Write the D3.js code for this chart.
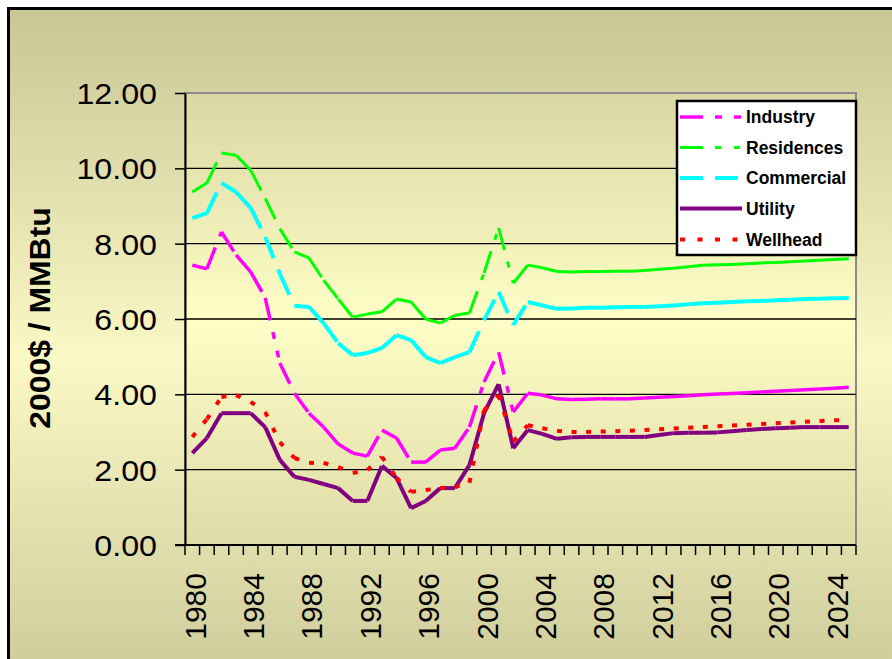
<!DOCTYPE html>
<html>
<head>
<meta charset="utf-8">
<script src="https://cdn.jsdelivr.net/npm/d3@7"></script>
<style>
  html, body { margin: 0; padding: 0; background: #ffffff; }
  svg { display: block; }
  text { font-family: "Liberation Sans", Arial, sans-serif; }
</style>
</head>
<body>
<svg id="chart" width="892" height="659"></svg>
<script>
// Natural gas prices by sector, 2000 dollars per MMBtu
const years = [1980, 1981, 1982, 1983, 1984, 1985, 1986, 1987, 1988, 1989,
               1990, 1991, 1992, 1993, 1994, 1995, 1996, 1997, 1998, 1999,
               2000, 2001, 2002, 2003, 2004, 2005, 2006, 2007, 2008, 2009,
               2010, 2011, 2012, 2013, 2014, 2015, 2016, 2017, 2018, 2019,
               2020, 2021, 2022, 2023, 2024, 2025];

const industry = [7.43, 7.33, 8.31, 7.70, 7.25, 6.56, 4.83, 4.03, 3.50, 3.13,
                  2.68, 2.44, 2.36, 3.05, 2.84, 2.20, 2.20, 2.52, 2.57, 3.13,
                  4.33, 5.12, 3.53, 4.03, 3.98, 3.88, 3.86, 3.87, 3.88, 3.88,
                  3.88, 3.90, 3.92, 3.94, 3.96, 3.99, 4.01, 4.02, 4.04, 4.06,
                  4.08, 4.10, 4.12, 4.14, 4.16, 4.19];

const residences = [9.37, 9.61, 10.41, 10.35, 9.95, 9.20, 8.40, 7.78, 7.62, 7.03,
                    6.53, 6.05, 6.13, 6.19, 6.53, 6.45, 6.00, 5.89, 6.10, 6.16,
                    7.22, 8.42, 6.95, 7.43, 7.36, 7.26, 7.25, 7.26, 7.26, 7.27,
                    7.27, 7.29, 7.32, 7.35, 7.39, 7.43, 7.44, 7.45, 7.47, 7.49,
                    7.50, 7.52, 7.54, 7.56, 7.58, 7.60];

const commercial = [8.68, 8.81, 9.61, 9.37, 8.95, 8.18, 7.20, 6.35, 6.32, 5.89,
                    5.36, 5.04, 5.10, 5.23, 5.57, 5.44, 4.99, 4.83, 4.99, 5.12,
                    5.97, 6.72, 5.84, 6.45, 6.36, 6.27, 6.28, 6.30, 6.30, 6.31,
                    6.32, 6.32, 6.34, 6.36, 6.39, 6.42, 6.43, 6.45, 6.47, 6.48,
                    6.50, 6.51, 6.53, 6.54, 6.55, 6.56];

const utility = [2.44, 2.84, 3.50, 3.50, 3.50, 3.13, 2.26, 1.81, 1.73, 1.62,
                 1.51, 1.17, 1.17, 2.10, 1.78, 0.98, 1.17, 1.51, 1.51, 2.12,
                 3.50, 4.27, 2.57, 3.05, 2.95, 2.82, 2.86, 2.87, 2.87, 2.87,
                 2.87, 2.87, 2.92, 2.97, 2.98, 2.98, 2.99, 3.02, 3.05, 3.08,
                 3.10, 3.11, 3.13, 3.13, 3.13, 3.13];

const wellhead = [2.87, 3.34, 3.93, 3.98, 3.80, 3.53, 2.73, 2.31, 2.18, 2.18,
                  2.07, 1.91, 1.99, 2.34, 1.78, 1.41, 1.46, 1.51, 1.54, 1.65,
                  3.58, 3.98, 2.75, 3.18, 3.10, 3.03, 3.00, 3.00, 3.01, 3.02,
                  3.03, 3.05, 3.07, 3.09, 3.11, 3.13, 3.15, 3.17, 3.19, 3.21,
                  3.23, 3.25, 3.27, 3.29, 3.31, 3.32];

const yTickValues = [0, 2, 4, 6, 8, 10, 12];
const xTickLabels = [1980, 1984, 1988, 1992, 1996, 2000, 2004, 2008, 2012, 2016, 2020, 2024];
const yTitle = "2000$ / MMBtu";

// Series styling; dash patterns restart on every year-to-year segment
const series = [
  { name: "Industry",   values: industry,   color: "#FF00FF", width: 3.5, dash: "23,12,7,12,7,12" },
  { name: "Residences", values: residences, color: "#00FF00", width: 3,   dash: "23,12,6,13,6,13" },
  { name: "Commercial", values: commercial, color: "#00FFFF", width: 4,   dash: "23,12" },
  { name: "Utility",    values: utility,    color: "#800080", width: 4,   dash: null },
  { name: "Wellhead",   values: wellhead,   color: "#FF0000", width: 4,   dash: "5,12.5" }
];

const svg = d3.select("#chart");
const plot = { left: 185, right: 856, top: 93, bottom: 545 };

const x = d3.scaleBand().domain(years).range([plot.left, plot.right]).padding(0);
const y = d3.scaleLinear().domain([0, 12]).range([plot.bottom, plot.top]);
const cx = d => x(d) + x.bandwidth() / 2;

// Gradients
const defs = svg.append("defs");
const outerGrad = defs.append("linearGradient").attr("id", "outerGrad")
  .attr("x1", 0).attr("y1", 0).attr("x2", 0).attr("y2", 1);
outerGrad.append("stop").attr("offset", "0%").attr("stop-color", "#C9C696");
outerGrad.append("stop").attr("offset", "50%").attr("stop-color", "#FAF8C5");
outerGrad.append("stop").attr("offset", "100%").attr("stop-color", "#CAC797");

const plotGrad = defs.append("linearGradient").attr("id", "plotGrad")
  .attr("x1", 0).attr("y1", 0).attr("x2", 0).attr("y2", 1);
plotGrad.append("stop").attr("offset", "0%").attr("stop-color", "#DAD7A3");
plotGrad.append("stop").attr("offset", "50%").attr("stop-color", "#FEFEC6");
plotGrad.append("stop").attr("offset", "100%").attr("stop-color", "#DEDBA7");

// Chart area with border
svg.append("rect")
  .attr("x", 8.5).attr("y", 8.5).attr("width", 900).attr("height", 700)
  .attr("fill", "url(#outerGrad)")
  .attr("stroke", "#000").attr("stroke-width", 3);

// Plot area
svg.append("rect")
  .attr("x", plot.left).attr("y", plot.top)
  .attr("width", plot.right - plot.left).attr("height", plot.bottom - plot.top)
  .attr("fill", "url(#plotGrad)")
  .attr("stroke", "#8a8a8a").attr("stroke-width", 2);

// Horizontal gridlines
svg.append("g").selectAll("line")
  .data(yTickValues.filter(v => v > 0 && v < 12))
  .join("line")
  .attr("x1", plot.left).attr("x2", plot.right)
  .attr("y1", d => y(d)).attr("y2", d => y(d))
  .attr("stroke", "#000").attr("stroke-width", 1.3);

// Y axis
const yAxis = svg.append("g")
  .attr("transform", `translate(${plot.left},0)`)
  .call(d3.axisLeft(y).tickValues(yTickValues).tickSize(10).tickSizeOuter(0)
        .tickPadding(0).tickFormat(d3.format(".2f")));
yAxis.select(".domain").attr("stroke", "#000").attr("stroke-width", 2);
yAxis.selectAll(".tick line").attr("stroke", "#000").attr("stroke-width", 1.5);
yAxis.selectAll(".tick text")
  .attr("x", 0)
  .attr("transform", "translate(-28,0) scale(1.11,1)")
  .attr("dy", "0.36em")
  .attr("font-size", 29)
  .attr("fill", "#000")
  .style("font-family", "'Liberation Sans', Arial, sans-serif");

// X axis: tick marks at category boundaries, labels every fourth year
const bounds = years.map(d => x(d)).concat([x(years[years.length - 1]) + x.bandwidth()]);
svg.append("g").selectAll("line")
  .data(bounds)
  .join("line")
  .attr("x1", d => d).attr("x2", d => d)
  .attr("y1", plot.bottom).attr("y2", plot.bottom + 10)
  .attr("stroke", "#000").attr("stroke-width", 1.5);

const xAxis = svg.append("g")
  .attr("transform", `translate(0,${plot.bottom})`)
  .call(d3.axisBottom(x).tickValues(xTickLabels).tickSize(0).tickSizeOuter(0).tickFormat(d3.format("d")));
xAxis.select(".domain").remove();
xAxis.selectAll(".tick text")
  .attr("transform", "rotate(-90)")
  .attr("x", -28)
  .attr("y", 13.5)
  .attr("dy", 0)
  .attr("text-anchor", "end")
  .attr("font-size", 30)
  .attr("fill", "#000")
  .style("font-family", "'Liberation Sans', Arial, sans-serif");

// Bottom axis line on top of plot border
svg.append("line")
  .attr("x1", plot.left - 10).attr("x2", plot.right)
  .attr("y1", plot.bottom).attr("y2", plot.bottom)
  .attr("stroke", "#000").attr("stroke-width", 2);

// Y axis title
svg.append("text")
  .attr("transform", "translate(50,318) rotate(-90) scale(1.1,1)")
  .attr("text-anchor", "middle")
  .attr("font-size", 29)
  .attr("font-weight", "bold")
  .attr("fill", "#000")
  .text(yTitle);

// Series lines, drawn one segment at a time
const line = d3.line().x(d => cx(d[0])).y(d => y(d[1]));
series.forEach(s => {
  const segs = d3.pairs(years.map((yr, i) => [yr, s.values[i]]));
  svg.append("g").selectAll("path")
    .data(segs)
    .join("path")
    .attr("d", d => line(d))
    .attr("fill", "none")
    .attr("stroke", s.color)
    .attr("stroke-width", s.width)
    .attr("stroke-linecap", "butt")
    .attr("stroke-linejoin", "round")
    .attr("stroke-dasharray", s.dash);
});

// Legend
const legend = svg.append("g");
legend.append("rect")
  .attr("x", 677).attr("y", 101).attr("width", 179).attr("height", 154)
  .attr("fill", "#fff").attr("stroke", "#000").attr("stroke-width", 2.5);
const legendY = [117, 147.5, 178, 208.5, 239.5];
series.forEach((s, i) => {
  legend.append("line")
    .attr("x1", 680).attr("x2", 742)
    .attr("y1", legendY[i]).attr("y2", legendY[i])
    .attr("stroke", s.color).attr("stroke-width", s.width)
    .attr("stroke-dasharray", s.dash);
  legend.append("text")
    .attr("x", 746).attr("y", legendY[i]).attr("dy", "0.36em")
    .attr("font-size", 17.5).attr("font-weight", "bold").attr("fill", "#000")
    .text(s.name);
});
</script>
</body>
</html>
